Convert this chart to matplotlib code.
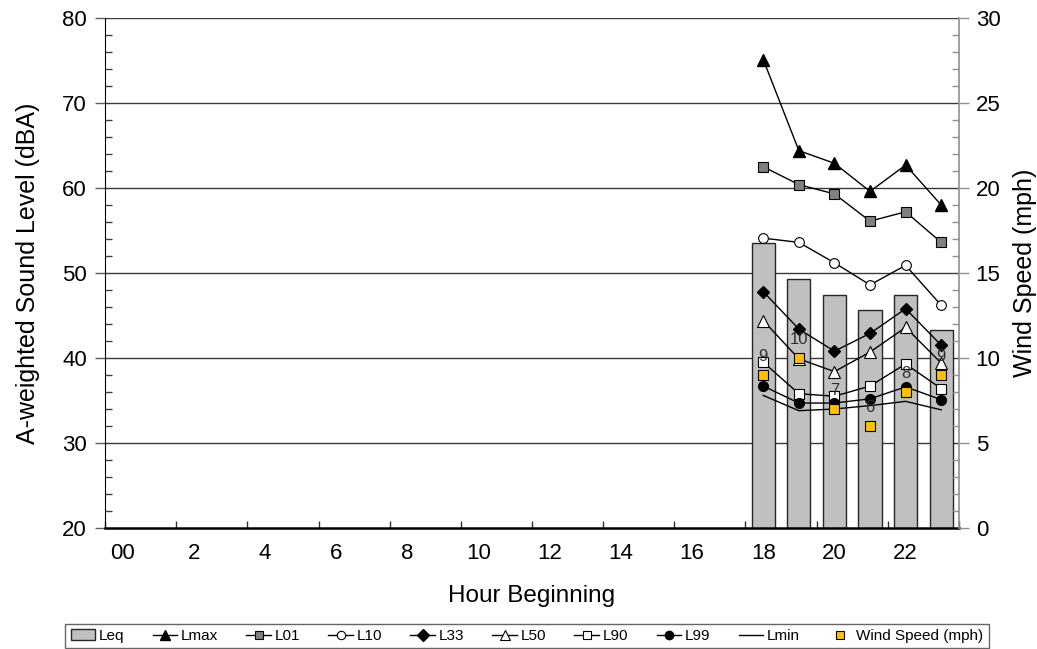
import matplotlib
matplotlib.use("Agg")
import matplotlib.pyplot as plt
import numpy as np
from matplotlib.patches import Patch
from matplotlib.lines import Line2D

plt.rcParams['font.family'] = ['Liberation Sans', 'DejaVu Sans']

hours = list(range(24))
tick_labels = ["00", "2", "4", "6", "8", "10", "12", "14", "16", "18", "20", "22"]
data_hours = [18, 19, 20, 21, 22, 23]

leq = [53.5, 49.3, 47.4, 45.6, 47.4, 43.3]
lmax = [75.1, 64.4, 62.9, 59.6, 62.7, 58.0]
l01 = [62.5, 60.4, 59.3, 56.1, 57.2, 53.6]
l10 = [54.1, 53.6, 51.2, 48.6, 50.9, 46.2]
l33 = [47.8, 43.4, 40.8, 42.9, 45.8, 41.5]
l50 = [44.4, 39.9, 38.4, 40.7, 43.6, 39.4]
l90 = [39.5, 35.8, 35.5, 36.7, 39.3, 36.4]
l99 = [36.7, 34.7, 34.7, 35.2, 36.6, 35.1]
lmin = [35.6, 33.8, 34.0, 34.4, 34.9, 33.9]
wind = [9, 10, 7, 6, 8, 9]

fig = plt.figure(figsize=(10.37, 6.49), dpi=100)
ax = fig.add_axes([105/1037, 1-528/649, (959-105)/1037, (528-18)/649])
ax2 = ax.twinx()

ax.set_xlim(-0.5, 23.5)
ax.set_ylim(20, 80)
ax2.set_ylim(0, 30)

# gridlines
for g in [30, 40, 50, 60, 70, 80]:
    ax.axhline(g, color='#3a3a3a', lw=1.0, zorder=0.5)

ax.bar(data_hours, leq, width=0.65, color='#C0C0C0', edgecolor='#262626', lw=1.0, zorder=2)

lk = dict(color='black', lw=1.0, zorder=3)
ax.plot(data_hours, lmax, marker='^', ms=8, mfc='black', mec='black', **lk)
ax.plot(data_hours, l01, marker='s', ms=6.5, mfc='#808080', mec='black', mew=0.8, **lk)
ax.plot(data_hours, l10, marker='o', ms=7, mfc='white', mec='black', mew=0.8, **lk)
ax.plot(data_hours, l33, marker='D', ms=6.5, mfc='black', mec='black', **lk)
ax.plot(data_hours, l50, marker='^', ms=8, mfc='white', mec='black', mew=0.8, **lk)
ax.plot(data_hours, l90, marker='s', ms=6.5, mfc='white', mec='black', mew=0.8, **lk)
ax.plot(data_hours, l99, marker='o', ms=7, mfc='black', mec='black', **lk)
ax.plot(data_hours, lmin, color='black', lw=1.0, zorder=3)

ax2.plot(data_hours, wind, ls='none', marker='s', ms=6.5, mfc='#FFC000', mec='black', mew=0.8, zorder=4)
for h, w in zip(data_hours, wind):
    ax2.annotate(str(w), (h, w), xytext=(0, 13.5), textcoords='offset points',
                 ha='center', va='center', fontsize=12, color='#303030', zorder=5)

# x ticks
ax.set_xticks(list(range(0, 24, 2)))
ax.set_xticklabels(tick_labels, fontsize=16)
ax.set_xticks(np.arange(-0.5, 24, 2), minor=True)
ax.tick_params(axis='x', which='major', length=0, pad=11)
ax.tick_params(axis='x', which='minor', direction='in', length=5, width=1, color='#303030')

# left y ticks
ax.set_yticks(range(20, 81, 10))
ax.set_yticks(range(20, 81, 2), minor=True)
ax.tick_params(axis='y', which='major', direction='out', length=7, width=1, color='#606060', labelsize=16, pad=6)
ax.tick_params(axis='y', which='minor', direction='in', length=5, width=1, color='#404040')

# right y ticks
ax2.set_yticks(range(0, 31, 5))
ax2.set_yticks(range(0, 31, 1), minor=True)
ax2.tick_params(axis='y', which='major', direction='out', length=7, width=1, color='#909090', labelsize=16, pad=5)
ax2.tick_params(axis='y', which='minor', direction='in', length=5, width=1, color='#909090')

for s in ['top']:
    ax.spines[s].set_visible(False)
    ax2.spines[s].set_visible(False)
ax.spines['right'].set_visible(False)
ax2.spines['left'].set_visible(False)
ax2.spines['bottom'].set_visible(False)
ax.spines['left'].set_color('black')
ax.spines['bottom'].set_color('black')
ax.spines['bottom'].set_linewidth(1.8)
ax2.spines['right'].set_color('#909090')
ax2.spines['right'].set_linewidth(1.2)

ax.set_xlabel('Hour Beginning', fontsize=17.5, labelpad=15)
ax.set_ylabel('A-weighted Sound Level (dBA)', fontsize=18, labelpad=16)
ax2.set_ylabel('Wind Speed (mph)', fontsize=18, labelpad=9)

handles = [
    Patch(facecolor='#C0C0C0', edgecolor='#262626', lw=1.0),
    Line2D([], [], color='black', lw=1, marker='^', ms=7, mfc='black', mec='black'),
    Line2D([], [], color='black', lw=1, marker='s', ms=6, mfc='#808080', mec='black', mew=0.8),
    Line2D([], [], color='black', lw=1, marker='o', ms=6, mfc='white', mec='black', mew=0.8),
    Line2D([], [], color='black', lw=1, marker='D', ms=6, mfc='black', mec='black'),
    Line2D([], [], color='black', lw=1, marker='^', ms=7, mfc='white', mec='black', mew=0.8),
    Line2D([], [], color='black', lw=1, marker='s', ms=6, mfc='white', mec='black', mew=0.8),
    Line2D([], [], color='black', lw=1, marker='o', ms=6, mfc='black', mec='black'),
    Line2D([], [], color='black', lw=1),
    Line2D([], [], ls='none', marker='s', ms=6, mfc='#FFC000', mec='black', mew=0.8),
]
labels = ['Leq', 'Lmax', 'L01', 'L10', 'L33', 'L50', 'L90', 'L99', 'Lmin', 'Wind Speed (mph)']
leg = fig.legend(handles, labels, loc='center', bbox_to_anchor=(527/1037, 1-636/649), ncol=10,
                 fontsize=11, frameon=True, fancybox=False, edgecolor='#404040',
                 handlelength=1.6, handletextpad=0.25, columnspacing=1.85, borderpad=0.35)
leg.get_frame().set_linewidth(1.0)

fig.savefig('out.png', dpi=100)
